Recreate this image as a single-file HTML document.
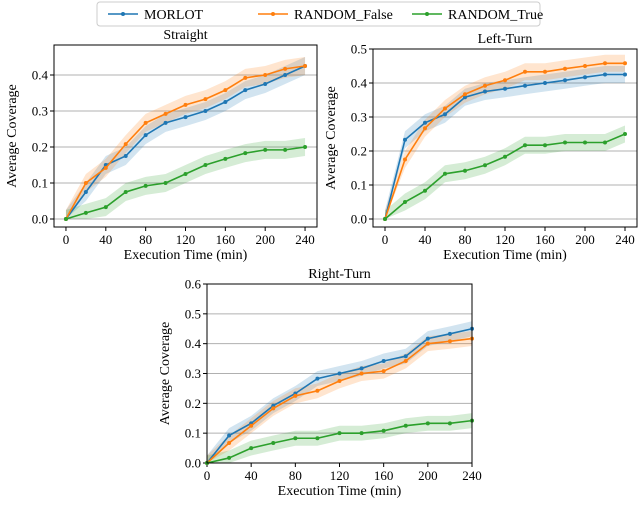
<!DOCTYPE html>
<html><head><meta charset="utf-8"><style>
body{margin:0;background:#fff;width:640px;height:525px;overflow:hidden}
svg{font-family:"Liberation Serif",serif}
</style></head><body>
<svg id="c" width="640" height="525"></svg>
<script>
const xs=[0,20,40,60,80,100,120,140,160,180,200,220,240];
const seriesNames=["MORLOT","RANDOM_False","RANDOM_True"];
const colors=["#1f77b4","#ff7f0e","#2ca02c"];
const straightMorlot=[0,.075,.15,.175,.233,.267,.283,.3,.325,.358,.375,.4,.425];
const straightFalse=[0,.1,.142,.208,.267,.292,.317,.333,.358,.392,.4,.417,.425];
const straightTrue=[0,.017,.033,.075,.092,.1,.125,.15,.167,.183,.192,.192,.2];
const leftMorlot=[0,.233,.283,.308,.358,.375,.383,.392,.4,.408,.417,.425,.425];
const leftFalse=[0,.175,.267,.325,.367,.392,.408,.433,.433,.442,.45,.458,.458];
const leftTrue=[0,.05,.083,.133,.142,.158,.183,.217,.217,.225,.225,.225,.25];
const rightMorlot=[0,.092,.133,.192,.233,.283,.3,.317,.342,.358,.417,.433,.45];
const rightFalse=[0,.067,.125,.183,.225,.242,.275,.3,.308,.342,.4,.408,.417];
const rightTrue=[0,.017,.05,.067,.083,.083,.1,.1,.108,.125,.133,.133,.142];
const xTicks=[0,40,80,120,160,200,240];
const yTicksStraight=[0,.1,.2,.3,.4];
const yTicksLeft=[0,.1,.2,.3,.4,.5];
const yTicksRight=[0,.1,.2,.3,.4,.5,.6];
const bandWidth=0.025;

const svg=document.getElementById('c');
const NS="http://www.w3.org/2000/svg";
function mk(t,a,p){const e=document.createElementNS(NS,t);for(const k in a)e.setAttribute(k,a[k]);(p||svg).appendChild(e);return e;}

function panel(name,title,box,xr,yr,yTicks,data){
  const g=mk('g',{});
  
  
  const X=v=>box.x0+(v-xr[0])/(xr[1]-xr[0])*(box.x1-box.x0);
  const Y=v=>box.y1-(v-yr[0])/(yr[1]-yr[0])*(box.y1-box.y0);
  yTicks.forEach(t=>{
    const l=mk('line',{x1:box.x0,x2:box.x1,y1:Y(t),y2:Y(t),stroke:'#b0b0b0','stroke-width':1},g);
    
    
    mk('line',{x1:box.x0-4,x2:box.x0,y1:Y(t),y2:Y(t),stroke:'#000'},g);
    const tx=mk('text',{x:box.x0-6,y:Y(t)+4.5,'text-anchor':'end','font-size':13},g);
    tx.textContent=t.toFixed(1);
    
    
  });
  xTicks.forEach(t=>{
    mk('line',{x1:X(t),x2:X(t),y1:box.y1,y2:box.y1+4,stroke:'#000'},g);
    const tx=mk('text',{x:X(t),y:box.y1+17,'text-anchor':'middle','font-size':13},g);
    tx.textContent=t;
    
    
  });
  data.forEach((d,i)=>{
    let up=xs.map((x,j)=>X(x)+','+Y(d[j]+bandWidth));
    let dn=xs.map((x,j)=>X(x)+','+Y(Math.max(0,d[j]-bandWidth))).reverse();
    const b=mk('polygon',{points:up.concat(dn).join(' '),fill:colors[i],'fill-opacity':0.2},g);
    
    
  });
  data.forEach((d,i)=>{
    const l=mk('polyline',{points:xs.map((x,j)=>X(x)+','+Y(d[j])).join(' '),fill:'none',stroke:colors[i],'stroke-width':1.6},g);
    
    
    xs.forEach((x,j)=>{
      const c=mk('circle',{cx:X(x),cy:Y(d[j]),r:2,fill:colors[i]},g);
      
      
    });
  });
  const fr=mk('rect',{x:box.x0,y:box.y0,width:box.x1-box.x0,height:box.y1-box.y0,fill:'none',stroke:'#000','stroke-width':1},g);
  
  
  const cx=(box.x0+box.x1)/2;
  const tt=mk('text',{x:cx,y:box.y0-6,'text-anchor':'middle','font-size':14},g);
  tt.textContent=title;
  
  
  const xl=mk('text',{x:cx,y:box.y1+32,'text-anchor':'middle','font-size':14},g);
  xl.textContent='Execution Time (min)';
  
  
  const ym=(box.y0+box.y1)/2;
  const yl=mk('text',{x:box.x0-38,y:ym,'text-anchor':'middle','font-size':14,transform:`rotate(-90 ${box.x0-38} ${ym})`},g);
  yl.textContent='Average Coverage';
  
  
}
panel('straight-panel','Straight',{x0:54,x1:317,y0:45,y1:227},[-12,252],[-0.0222,0.4833],yTicksStraight,[straightMorlot,straightFalse,straightTrue]);
panel('left-turn-panel','Left-Turn',{x0:373,x1:637,y0:49,y1:227},[-12,252],[-0.0235,0.5],yTicksLeft,[leftMorlot,leftFalse,leftTrue]);
panel('right-turn-panel','Right-Turn',{x0:207,x1:472,y0:284,y1:463},[0,240],[0,0.6],yTicksRight,[rightMorlot,rightFalse,rightTrue]);

const lg=mk('g',{});


const lr=mk('rect',{x:97,y:2,width:443,height:24,rx:3,fill:'#fff',stroke:'#ccc'},lg);
const lx=[108,258,412];
seriesNames.forEach((n,i)=>{
  const e=mk('g',{},lg);
  
  
  mk('line',{x1:lx[i],x2:lx[i]+30,y1:14,y2:14,stroke:colors[i],'stroke-width':1.6},e);
  mk('circle',{cx:lx[i]+15,cy:14,r:2,fill:colors[i]},e);
  const t=mk('text',{x:lx[i]+36,y:19,'font-size':14},e);
  t.textContent=n;
});
</script>
</body></html>
